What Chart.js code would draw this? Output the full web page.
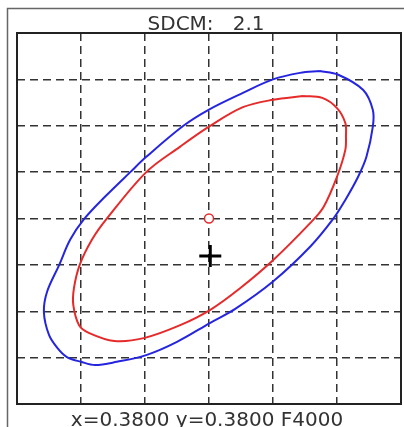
<!DOCTYPE html>
<html>
<head>
<meta charset="utf-8">
<script src="https://cdn.jsdelivr.net/npm/chart.js@4/dist/chart.umd.min.js"></script>
<style>
  html, body { margin: 0; padding: 0; background: #fff; }
  #wrap { width: 404px; height: 427px; }
</style>
</head>
<body>
<div id="wrap"><canvas id="c" width="404" height="427"></canvas></div>
<script>
// grid units: x 0..6, y 0..8 (tick labels are not shown in the picture)
const titleText = 'SDCM:   2.1';
const footText = 'x=0.3800 y=0.3800 F4000';

const blueX = [4.73, 5.02, 5.41, 5.56, 5.56, 5.46, 5.33, 5.13, 4.94, 4.58, 4.00, 3.41, 3.02, 2.50, 2.03, 1.56,
               1.22, 1.00, 0.78, 0.63, 0.50, 0.42, 0.47, 0.66, 0.83, 1.05, 1.39, 1.77, 2.02, 2.60, 3.00, 3.53,
               4.00, 4.42, 4.73];
const blueY = [7.18, 7.10, 6.77, 6.34, 5.98, 5.33, 4.90, 4.40, 3.99, 3.39, 2.64, 2.05, 1.75, 1.34, 1.06, 0.91,
               0.84, 0.91, 1.01, 1.21, 1.49, 1.98, 2.42, 3.00, 3.54, 3.99, 4.49, 5.00, 5.33, 6.00, 6.35, 6.71,
               7.00, 7.14, 7.18];

const redX = [4.47, 4.77, 5.00, 5.13, 5.14, 5.13, 5.00, 4.79, 4.58, 4.00, 3.48, 3.02, 2.55, 1.98, 1.52, 1.13,
              0.97, 0.88, 0.89, 0.98, 1.17, 1.40, 2.02, 2.55, 3.00, 3.53, 4.00, 4.47];
const redY = [6.64, 6.60, 6.38, 6.06, 5.78, 5.48, 4.90, 4.25, 3.90, 3.10, 2.49, 2.03, 1.70, 1.42, 1.36, 1.53,
              1.70, 2.13, 2.50, 3.00, 3.54, 3.99, 5.00, 5.55, 5.98, 6.40, 6.56, 6.64];

const refPoint = [3.00, 4.00];
const testPoint = [3.02, 3.19];

function toPoints(xs, ys) {
  return xs.map((x, i) => ({ x: x, y: ys[i] }));
}

const frame = {
  id: 'frame',
  beforeDraw(chart) {
    const ctx = chart.ctx;
    ctx.save();
    ctx.fillStyle = '#fff';
    ctx.fillRect(0, 0, chart.width, chart.height);
    ctx.strokeStyle = '#666';
    ctx.lineWidth = 1.5;
    ctx.strokeRect(7.5, 8.5, chart.width + 10, chart.height + 10);
    ctx.restore();
  },
  afterDraw(chart) {
    const ctx = chart.ctx;
    const a = chart.chartArea;
    ctx.save();
    ctx.strokeStyle = '#222';
    ctx.lineWidth = 2;
    ctx.strokeRect(a.left, a.top, a.right - a.left, a.bottom - a.top);
    ctx.fillStyle = '#333';
    ctx.font = '20px "DejaVu Sans"';
    ctx.textAlign = 'center';
    ctx.textBaseline = 'alphabetic';
    ctx.fillText(titleText, 206, a.top - 3);
    ctx.fillText(footText, 207, a.bottom + 22);
    ctx.restore();
  }
};

const gridColor = (c) => (c.tick && (c.index === 0 || c.index === c.scale.ticks.length - 1)) ? 'rgba(0,0,0,0)' : '#333';

new Chart(document.getElementById('c'), {
  type: 'scatter',
  data: {
    datasets: [
      {
        data: toPoints(blueX, blueY),
        showLine: true,
        borderColor: '#2525e0',
        borderWidth: 2,
        pointRadius: 0,
        tension: 0.35
      },
      {
        data: toPoints(redX, redY),
        showLine: true,
        borderColor: '#e62a2a',
        borderWidth: 2,
        pointRadius: 0,
        tension: 0.35
      },
      {
        data: [{ x: refPoint[0], y: refPoint[1] }],
        pointStyle: 'circle',
        pointRadius: 4.5,
        borderWidth: 1.5,
        borderColor: '#e62a2a',
        backgroundColor: '#fff'
      },
      {
        data: [{ x: testPoint[0], y: testPoint[1] }],
        pointStyle: 'cross',
        pointRadius: 11,
        borderWidth: 3,
        borderColor: '#000'
      }
    ]
  },
  options: {
    responsive: false,
    animation: false,
    layout: { autoPadding: false, padding: { left: 17, top: 33, right: 3, bottom: 23 } },
    plugins: { legend: { display: false }, tooltip: { enabled: false } },
    scales: {
      x: {
        type: 'linear', min: 0, max: 6,
        ticks: { display: false, stepSize: 1 },
        grid: { color: gridColor, lineWidth: 1.5, drawTicks: false },
        border: { display: false, dash: [8, 5] }
      },
      y: {
        type: 'linear', min: 0, max: 8,
        ticks: { display: false, stepSize: 1 },
        grid: { color: gridColor, lineWidth: 1.5, drawTicks: false },
        border: { display: false, dash: [8, 5] }
      }
    }
  },
  plugins: [frame]
});
</script>
</body>
</html>
